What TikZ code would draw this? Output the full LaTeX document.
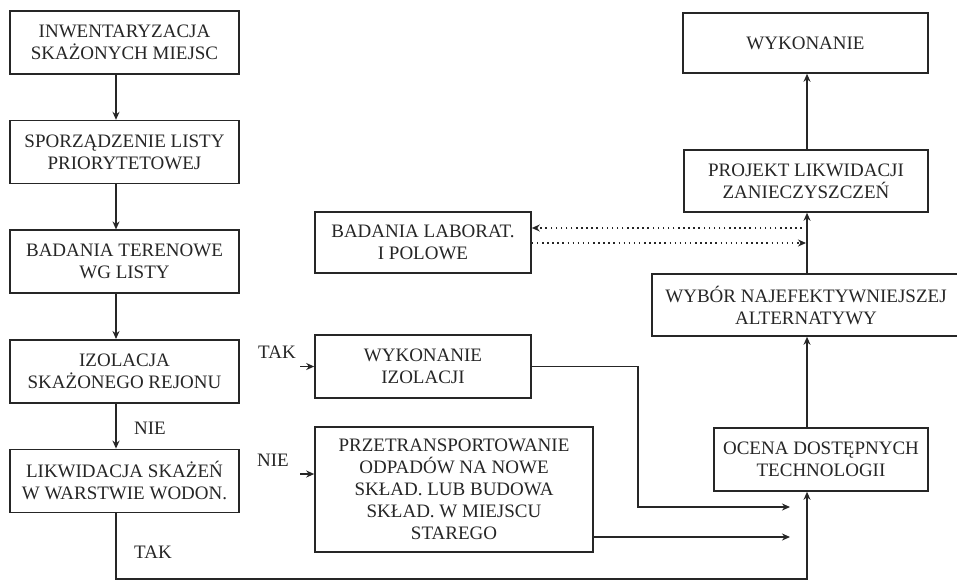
\documentclass[tikz,border=0pt]{standalone}
\usepackage{fontspec}
\setmainfont{Liberation Serif}
\usetikzlibrary{positioning, arrows.meta}
\definecolor{inkGrey}{HTML}{262626}
\tikzset{
  box/.style = {draw=inkGrey, line width=1.6pt, fill=white, align=center, text=inkGrey,
                font=\fontsize{19}{22}\selectfont, inner sep=3pt, minimum height=63pt},
  fl/.style  = {-{Stealth[length=8pt,width=7pt]}, draw=inkGrey, line width=1.5pt},
  fld/.style = {-{Stealth[length=8pt,width=7pt]}, draw=inkGrey, line width=1.5pt,
                dash pattern=on 1.5pt off 3.6pt},
  lbl/.style = {font=\fontsize{19}{22}\selectfont, text=inkGrey, inner sep=1pt}
}

\begin{document}
\begin{tikzpicture}[x=1pt, y=-1pt, node distance=45pt]
  \useasboundingbox[fill=white] (0,0) rectangle (957,582);

  % left column
  \node[box, minimum width=229pt] (inw) at (124.5,42.5) {INWENTARYZACJA\\SKAŻONYCH MIEJSC};
  \node[box, minimum width=229pt, below=of inw] (spo) {SPORZĄDZENIE LISTY\\PRIORYTETOWEJ};
  \node[box, minimum width=229pt, below=of spo] (bad) {BADANIA TERENOWE\\WG LISTY};
  \node[box, minimum width=229pt, below=of bad] (izo) {IZOLACJA\\SKAŻONEGO REJONU};
  \node[box, minimum width=229pt, below=of izo] (lik) {LIKWIDACJA SKAŻEŃ\\W WARSTWIE WODON.};

  % middle column
  \node[box, minimum width=216pt, minimum height=61pt] (lab) at (423,242.5) {BADANIA LABORAT.\\I POLOWE};
  \node[box, minimum width=216pt] (wyi) at (423,366.5) {WYKONANIE\\IZOLACJI};
  \node[box, minimum width=278pt, minimum height=125pt] (prz) at (454,489.5)
    {PRZETRANSPORTOWANIE\\ODPADÓW NA NOWE\\SKŁAD. LUB BUDOWA\\SKŁAD. W MIEJSCU\\STAREGO};

  % right column
  \node[box, minimum width=245pt, minimum height=60pt] (wyk) at (805.5,43) {WYKONANIE};
  \node[box, minimum width=244pt, minimum height=62pt] (pro) at (806,181) {PROJEKT LIKWIDACJI\\ZANIECZYSZCZEŃ};
  \node[box, minimum width=308pt, minimum height=62pt] (wyb) at (806,305) {WYBÓR NAJEFEKTYWNIEJSZEJ\\ALTERNATYWY};
  \node[box, minimum width=214pt] (oce) at (821,459.5) {OCENA DOSTĘPNYCH\\TECHNOLOGII};

  % decisions
  \node[lbl] (tak1) at (277,352) {TAK};
  \node[lbl] (nie1) at (273,460) {NIE};
  \node[lbl] (nie2) at (150,428) {NIE};
  \node[lbl] (tak2) at (153,552) {TAK};

  \coordinate (lx) at (116,0);
  \coordinate (rx) at (807,0);
  \coordinate (bot) at (0,579);
  \coordinate (j1) at (790,507);
  \coordinate (j2) at (790,537);
  \coordinate (d1) at (807,228);
  \coordinate (d2) at (806,243);

  \foreach \a/\b in {inw/spo, spo/bad, bad/izo, izo/lik} \draw[fl] (\a.south -| lx) -- (\b.north -| lx);
  \foreach \a/\b in {oce/wyb, wyb/pro, pro/wyk} \draw[fl] (\a.north -| rx) -- (\b.south -| rx);

  \draw[fl] ([xshift=-14pt]wyi.west) -- (wyi.west);
  \draw[fl] ([xshift=-14pt,yshift=15.5pt]prz.west) -- ([yshift=15.5pt]prz.west);
  \draw[fl] (wyi.east) -- ++(106,0) |- (j1);
  \draw[fl] (prz.east |- j2) -- (j2);
  \draw[fl] (lik.south -| lx) -- (lx |- bot) -| (oce.south -| rx);

  \draw[fld] (d1) -- (lab.east |- d1);
  \draw[fld] (lab.east |- d2) -- (d2);
\end{tikzpicture}
\end{document}
